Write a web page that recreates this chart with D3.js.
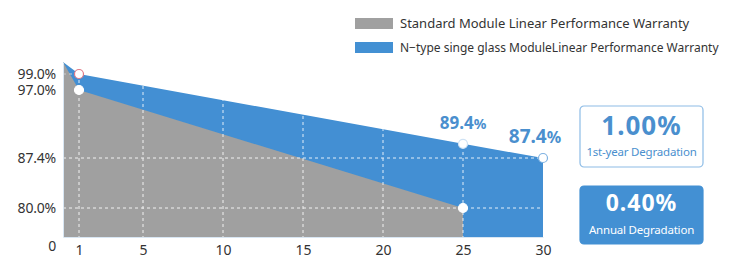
<!DOCTYPE html>
<html>
  <head>
    <title>Linear Performance Warranty</title>
    <meta charset="UTF-8" />
    <style>
      body { margin: 0; background: #fff; }
      text { font-family: "Noto Sans", sans-serif; }
    </style>
  </head>
  <body>
    <script src="https://cdn.jsdelivr.net/npm/d3@7/dist/d3.min.js"></script>
    <script>
      // series values (year -> % of nominal power)
      var standardYears = [0, 1, 25];
      var standardValues = [100, 97, 80];
      var ntypeYears = [0, 1, 25, 30];
      var ntypeValues = [100, 99, 89.4, 87.4];

      // axis ticks
      var xTicks = [1, 5, 10, 15, 20, 25, 30];
      var yTicks = [0, 80, 87.4, 97, 99];
      var yTickLabels = ["0", "80.0%", "87.4%", "97.0%", "99.0%"];

      // legend + info boxes
      var legendLabels = ["Standard Module Linear Performance Warranty",
                          "N\u2212type singe glass ModuleLinear Performance Warranty"];
      var boxValues = ["1.00%", "0.40%"];
      var boxLabels = ["1st-year Degradation", "Annual Degradation"];

      var grey = "#a0a0a0", blue = "#4390d3", textBlue = "#4a8fce";

      var standard = standardYears.map(function(d, i) { return { year: d, value: standardValues[i] }; });
      var ntype = ntypeYears.map(function(d, i) { return { year: d, value: ntypeValues[i] }; });

      var svg = d3.select("body").append("svg")
        .attr("width", 732)
        .attr("height", 259);

      var x = d3.scaleLinear().domain([0, 30]).range([63, 543]);
      // the picture's value axis is not evenly spaced, so map it piece by piece
      var y = d3.scaleLinear()
        .domain([0, 80, 87.4, 97, 99, 100])
        .range([237, 208, 158, 90, 74, 62]);

      var area = d3.area()
        .x(function(d) { return x(d.year); })
        .y0(y(0))
        .y1(function(d) { return y(d.value); });

      svg.append("clipPath").attr("id", "clip")
        .append("path").attr("d", area(ntype));

      svg.append("path").attr("d", area(ntype)).attr("fill", blue);
      svg.append("path").attr("d", area(standard)).attr("fill", grey);

      // dashed grid inside the areas
      var grid = svg.append("g").attr("clip-path", "url(#clip)")
        .attr("stroke", "#fff").attr("stroke-width", 1)
        .attr("stroke-dasharray", "3,3").attr("opacity", 0.85);
      grid.selectAll("line.v").data(xTicks.slice(0, -1)).enter().append("line")
        .attr("x1", function(d) { return x(d); }).attr("x2", function(d) { return x(d); })
        .attr("y1", y(100)).attr("y2", y(0));
      grid.selectAll("line.h").data([80, 87.4]).enter().append("line")
        .attr("x1", x(0)).attr("x2", x(30))
        .attr("y1", function(d) { return y(d); }).attr("y2", function(d) { return y(d); });

      svg.append("line")
        .attr("x1", x(0)).attr("x2", x(1)).attr("y1", y(99)).attr("y2", y(99))
        .attr("stroke", "#ccc").attr("stroke-dasharray", "3,3");

      // axes
      var yAxis = svg.append("g")
        .attr("transform", "translate(" + x(0) + ",0)")
        .call(d3.axisLeft(y).tickValues(yTicks).tickSize(0).tickPadding(7)
          .tickFormat(function(d, i) { return yTickLabels[i]; }));
      yAxis.select(".domain").attr("stroke", "#d8e6f3");
      yAxis.selectAll("text").attr("font-size", 14).attr("fill", "#333")
        .attr("font-family", "Noto Sans").attr("letter-spacing", -0.2)
        .attr("dy", function(d) { return d === 0 ? "0.95em" : "0.32em"; });

      var xAxis = svg.append("g")
        .attr("transform", "translate(0," + y(0) + ")")
        .call(d3.axisBottom(x).tickValues(xTicks).tickSize(0).tickPadding(8));
      xAxis.select(".domain").attr("stroke", "#d8e6f3");
      xAxis.selectAll("text").attr("font-size", 14).attr("fill", "#333")
        .attr("font-family", "Noto Sans");

      // markers
      var markers = [
        { year: 1, value: 99, stroke: "#e07a86" },
        { year: 1, value: 97, stroke: "#fff" },
        { year: 25, value: 89.4, stroke: "#cfe2f4" },
        { year: 30, value: 87.4, stroke: "#7fb2e2" },
        { year: 25, value: 80, stroke: "#fff" }
      ];
      svg.selectAll("circle.m").data(markers).enter().append("circle")
        .attr("cx", function(d) { return x(d.year); })
        .attr("cy", function(d) { return y(d.value); })
        .attr("r", 4.5)
        .attr("fill", "#fff")
        .attr("stroke", function(d) { return d.stroke; })
        .attr("stroke-width", 1.2);

      // value callouts
      var callouts = [
        { year: 25, value: 89.4, dx: 0, size: 17, dy: -15 },
        { year: 30, value: 87.4, dx: -8, size: 19, dy: -15 }
      ];
      callouts.forEach(function(c) {
        var t = svg.append("text")
          .attr("x", x(c.year) + c.dx).attr("y", y(c.value) + c.dy)
          .attr("text-anchor", "middle")
          .attr("fill", textBlue).attr("font-weight", "bold")
          .attr("font-size", c.size);
        t.append("tspan").text(c.value.toFixed(1));
        t.append("tspan").attr("font-size", c.size - 3).text("%");
      });

      // legend
      var legendColors = [grey, blue];
      var legendFonts = ["Noto Sans", "Liberation Sans"];
      var legendSizes = [13, 12];
      var legend = svg.selectAll("g.legend").data(legendLabels).enter().append("g")
        .attr("transform", function(d, i) { return "translate(355," + (18 + i * 24) + ")"; });
      legend.append("rect").attr("width", 38).attr("height", 11)
        .attr("fill", function(d, i) { return legendColors[i]; });
      legend.append("text").attr("x", 45).attr("y", 5.5).attr("dy", "0.35em")
        .attr("font-size", function(d, i) { return legendSizes[i]; }).attr("fill", "#333")
        .attr("font-family", function(d, i) { return legendFonts[i]; })
        .text(function(d) { return d; });

      // degradation boxes
      var boxes = [
        { top: 106, h: 61, fill: "#fff", stroke: "#8dbce6", color: textBlue, size: 26 },
        { top: 186, h: 58, fill: blue, stroke: blue, color: "#fff", size: 23 }
      ];
      boxes.forEach(function(b, i) {
        var g = svg.append("g").attr("transform", "translate(580," + b.top + ")");
        g.append("rect").attr("width", 123).attr("height", b.h).attr("rx", 4)
          .attr("fill", b.fill).attr("stroke", b.stroke).attr("stroke-width", 1.2);
        g.append("text").attr("x", 61.5).attr("y", i === 0 ? 29 : 25)
          .attr("text-anchor", "middle").attr("font-weight", "bold")
          .attr("font-size", b.size).attr("fill", b.color).attr("letter-spacing", 1)
          .text(boxValues[i]);
        g.append("text").attr("x", 61.5).attr("y", i === 0 ? 50 : 48)
          .attr("text-anchor", "middle").attr("font-size", 11.5)
          .attr("letter-spacing", -0.2)
          .attr("fill", b.color).text(boxLabels[i]);
      });
    </script>
  </body>
</html>
